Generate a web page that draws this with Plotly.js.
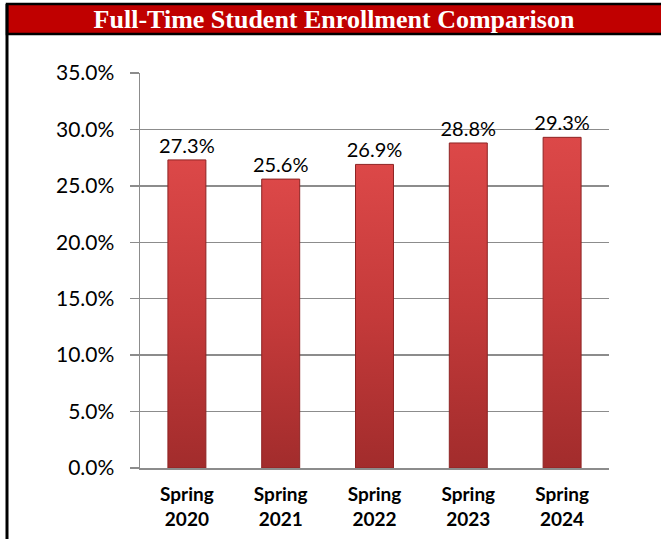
<!DOCTYPE html>
<html>
<head>
<meta charset="utf-8">
<script src="https://cdn.plot.ly/plotly-3.0.1.min.js"></script>
<style>
  html, body { margin: 0; padding: 0; background: #ffffff; }
  #chart { width: 661px; height: 539px; }
</style>
</head>
<body>
<div id="chart"></div>
<script>
const categories = ["Spring<br>2020", "Spring<br>2021", "Spring<br>2022", "Spring<br>2023", "Spring<br>2024"];
const enrollmentShare = [0.273, 0.256, 0.269, 0.288, 0.293];
const yTickValues = [0, 0.05, 0.10, 0.15, 0.20, 0.25, 0.30, 0.35];
const chartTitle = "Full-Time Student Enrollment Comparison";

const L = 140, R = 609, T = 73, B = 468, W = 661, H = 539;
const px = x => (x - L) / (R - L);
const py = y => (B - y) / (B - T);

const trace = {
  type: "bar",
  x: categories,
  y: enrollmentShare,
  marker: { color: "#C93C3C", line: { color: "#8E2424", width: 1 } },
  texttemplate: "%{y:.1%}",
  textposition: "outside",
  constraintext: "none",
  textfont: { family: "Lato, 'Open Sans', sans-serif", size: 20, color: "#000000" },
  cliponaxis: false,
  hoverinfo: "skip"
};

const layout = {
  width: W, height: H,
  margin: { l: L, r: W - R, t: T, b: H - B, pad: 0 },
  paper_bgcolor: "#ffffff",
  plot_bgcolor: "#ffffff",
  showlegend: false,
  bargap: 0.595,
  title: {
    text: "<b>" + chartTitle + "</b>",
    font: { family: "'Liberation Serif', 'Times New Roman', serif", size: 26, color: "#ffffff" },
    xref: "container", yref: "container",
    x: 334 / W, y: 1 - 19 / H, xanchor: "center", yanchor: "middle"
  },
  xaxis: {
    type: "category",
    showgrid: false,
    showline: true, linecolor: "#8c8c8c", linewidth: 1.5,
    ticks: "",
    ticklabelstandoff: 9,
    tickfont: { family: "Lato, 'Open Sans', sans-serif", size: 19, color: "#000000", weight: "bold" },
    fixedrange: true
  },
  yaxis: {
    range: [0, 0.35],
    tickvals: yTickValues,
    tickformat: ".1%",
    showgrid: true, gridcolor: "#8c8c8c", gridwidth: 1.5,
    showline: true, linecolor: "#8c8c8c", linewidth: 1.5,
    ticks: "outside", ticklen: 9, tickcolor: "#8c8c8c", tickwidth: 1.5,
    ticklabelstandoff: 11,
    tickfont: { family: "Lato, 'Open Sans', sans-serif", size: 21, color: "#000000" },
    zeroline: false,
    fixedrange: true
  },
  shapes: [
    { type: "rect", xref: "paper", yref: "paper", layer: "below",
      x0: px(7), x1: px(680), y0: py(34), y1: py(4),
      fillcolor: "#C00000", line: { color: "#000000", width: 2.5 } },
    { type: "line", xref: "paper", yref: "paper",
      x0: px(7), x1: px(7), y0: py(4), y1: py(560),
      line: { color: "#000000", width: 3 } }
  ]
};

Plotly.newPlot("chart", [trace], layout, { displayModeBar: false, staticPlot: true }).then(gd => {
  const svg = gd.querySelector("svg.main-svg");
  const ns = "http://www.w3.org/2000/svg";
  let defs = svg.querySelector("defs");
  if (!defs) { defs = document.createElementNS(ns, "defs"); svg.insertBefore(defs, svg.firstChild); }
  const grad = document.createElementNS(ns, "linearGradient");
  grad.setAttribute("id", "barGrad");
  grad.setAttribute("x1", "0"); grad.setAttribute("y1", "0");
  grad.setAttribute("x2", "0"); grad.setAttribute("y2", "1");
  [["0", "#DC4848"], ["0.5", "#C43A3A"], ["1", "#A22C2C"]].forEach(([o, c]) => {
    const s = document.createElementNS(ns, "stop");
    s.setAttribute("offset", o); s.setAttribute("stop-color", c);
    grad.appendChild(s);
  });
  defs.appendChild(grad);
  gd.querySelectorAll(".bars .point path").forEach(p => { p.style.fill = "url(#barGrad)"; });
});
</script>
</body>
</html>
